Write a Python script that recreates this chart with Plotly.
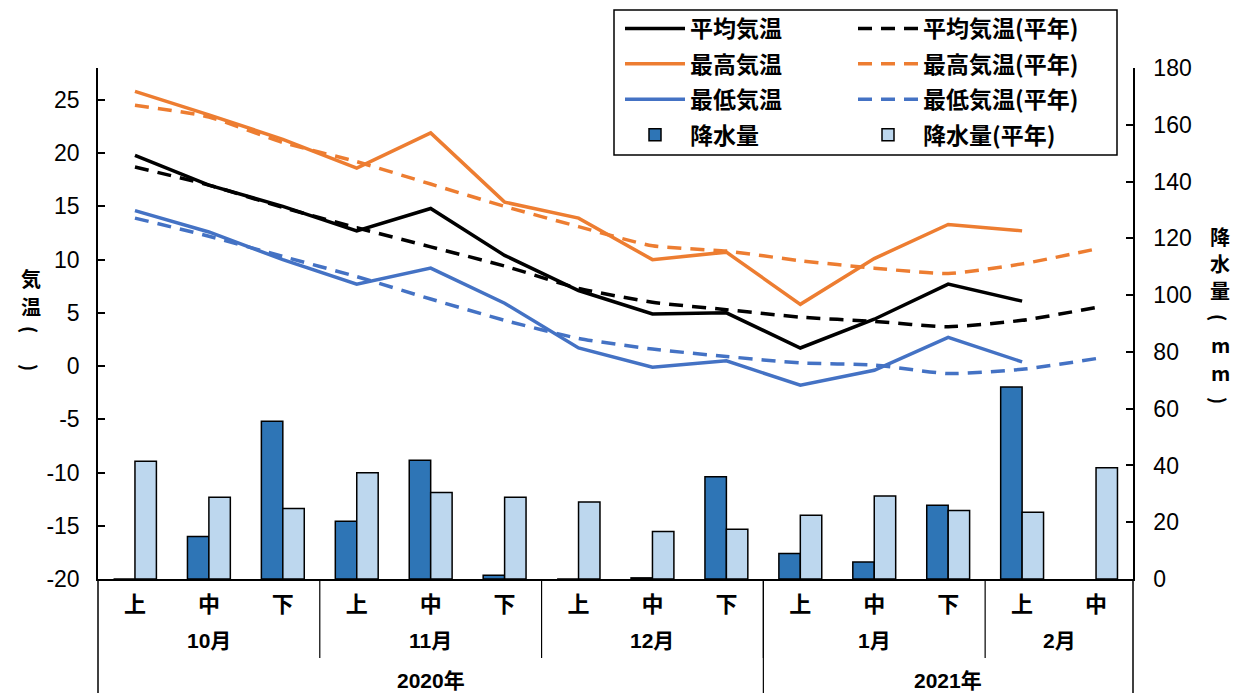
import plotly.graph_objects as go

# ---------------- data ----------------
sub_labels = ["上", "中", "下", "上", "中", "下", "上", "中", "下", "上", "中", "下", "上", "中"]
months = ["10月", "11月", "12月", "1月", "2月"]
month_counts = [3, 3, 3, 3, 2]
years = ["2020年", "2021年"]
year_counts = [9, 5]

temp_tick_vals = [-20, -15, -10, -5, 0, 5, 10, 15, 20, 25]
temp_tick_text = ["-20", "-15", "-10", "-5", "0", "5", "10", "15", "20", "25"]

mean_temp = [19.8, 17.0, 15.0, 12.7, 14.8, 10.4, 7.1, 4.9, 5.0, 1.7, 4.4, 7.7, 6.1, None]
mean_normal = [18.7, 17.0, 14.9, 13.0, 11.2, 9.4, 7.3, 6.0, 5.3, 4.6, 4.2, 3.7, 4.3, 5.5]
max_temp = [25.8, 23.6, 21.3, 18.6, 21.9, 15.4, 13.9, 10.0, 10.7, 5.8, 10.1, 13.3, 12.7, None]
max_normal = [24.5, 23.4, 21.0, 19.2, 17.1, 15.0, 13.1, 11.3, 10.8, 9.9, 9.2, 8.7, 9.6, 11.0]
min_temp = [14.6, 12.6, 10.0, 7.7, 9.2, 5.9, 1.7, -0.1, 0.5, -1.8, -0.4, 2.7, 0.4, None]
min_normal = [13.9, 12.2, 10.3, 8.4, 6.3, 4.3, 2.6, 1.6, 0.9, 0.3, 0.1, -0.7, -0.3, 0.7]
precip = [0, 15.0, 55.6, 20.3, 41.8, 1.3, 0, 0.4, 36.0, 9.0, 6.0, 26.0, 67.6, None]
precip_normal = [41.5, 28.8, 24.8, 37.4, 30.5, 28.8, 27.1, 16.7, 17.5, 22.5, 29.2, 24.1, 23.5, 39.2]

# axis titles, written vertically one glyph at a time (angle 90 = rotated bracket)
left_title = [("気", 278, 0), ("温", 306, 0), ("(", 329, 90), (")", 367, 90)]
right_title = [("降", 236, 0), ("水", 263, 0), ("量", 290, 0), ("(", 317, 90),
               ("m", 344, 0), ("m", 372, 0), (")", 400, 90)]

# ---------------- styling ----------------
BLACK = "#000000"
ORANGE = "#ED7D31"
BLUE = "#4472C4"
DARKBAR = "#2E75B6"
LIGHTBAR = "#BDD7EE"
FONT = "Liberation Sans, Noto Sans CJK JP, sans-serif"
CJK = "Noto Sans CJK JP, sans-serif"
LW = 3.5
DASH = "14px,9px"

x = list(range(len(sub_labels)))

fig = go.Figure()

# bars (secondary axis)
fig.add_trace(go.Bar(x=x, y=precip, name="降水量", yaxis="y2",
                     marker=dict(color=DARKBAR, line=dict(color=BLACK, width=1.5)),
                     legend="legend", legendgroup="p", legendrank=4))
fig.add_trace(go.Bar(x=x, y=precip_normal, name="降水量(平年)", yaxis="y2",
                     marker=dict(color=LIGHTBAR, line=dict(color=BLACK, width=1.5)),
                     legend="legend2", legendgroup="pn", legendrank=4))

# temperature lines
fig.add_trace(go.Scatter(x=x, y=mean_temp, name="平均気温", mode="lines",
                         line=dict(color=BLACK, width=LW), legend="legend",
                         legendgroup="a", legendrank=1))
fig.add_trace(go.Scatter(x=x, y=max_temp, name="最高気温", mode="lines",
                         line=dict(color=ORANGE, width=LW), legend="legend",
                         legendgroup="b", legendrank=2))
fig.add_trace(go.Scatter(x=x, y=min_temp, name="最低気温", mode="lines",
                         line=dict(color=BLUE, width=LW), legend="legend",
                         legendgroup="c", legendrank=3))
fig.add_trace(go.Scatter(x=x, y=mean_normal, name="平均気温(平年)", mode="lines",
                         line=dict(color=BLACK, width=LW, dash=DASH, shape="spline", smoothing=0.6),
                         legend="legend2", legendgroup="an", legendrank=1))
fig.add_trace(go.Scatter(x=x, y=max_normal, name="最高気温(平年)", mode="lines",
                         line=dict(color=ORANGE, width=LW, dash=DASH, shape="spline", smoothing=0.6),
                         legend="legend2", legendgroup="bn", legendrank=2))
fig.add_trace(go.Scatter(x=x, y=min_normal, name="最低気温(平年)", mode="lines",
                         line=dict(color=BLUE, width=LW, dash=DASH, shape="spline", smoothing=0.6),
                         legend="legend2", legendgroup="cn", legendrank=3))

W, H = 1235, 693
ML, MR, MT, MB = 98, 102, 68, 114
pw = W - ML - MR
ph = H - MT - MB


def px_x(p):
    return (p - ML) / pw


def px_y(p):
    return (H - MB - p) / ph


legend_common = dict(
    font=dict(family=CJK, size=23, color=BLACK, weight="bold"),
    bgcolor="rgba(0,0,0,0)", borderwidth=0,
    orientation="v", traceorder="grouped", tracegroupgap=2.5,
    itemwidth=60, xanchor="left", yanchor="top",
)

fig.update_layout(
    width=W, height=H,
    margin=dict(l=ML, r=MR, t=MT, b=MB, pad=0, autoexpand=False),
    paper_bgcolor="white", plot_bgcolor="white",
    font=dict(family=FONT, size=22, color=BLACK),
    barmode="group", bargap=0.42, bargroupgap=0,
    showlegend=True,
    legend=dict(x=px_x(620), y=px_y(7), **legend_common),
    legend2=dict(x=px_x(853), y=px_y(7), **legend_common),
    xaxis=dict(range=[-0.5, len(x) - 0.5], tickmode="array", tickvals=x, ticktext=sub_labels,
               showline=True, linecolor=BLACK, linewidth=1.5, ticks="", showgrid=False,
               zeroline=False, ticklabelstandoff=5, automargin=False,
               tickfont=dict(family=CJK, size=22, weight="bold")),
    yaxis=dict(range=[-20, 28], tickmode="array", tickvals=temp_tick_vals, ticktext=temp_tick_text,
               showline=True, linecolor=BLACK, linewidth=1.5, ticks="inside", ticklen=7,
               tickwidth=1.5, tickcolor=BLACK, showgrid=False, zeroline=False, automargin=False,
               ticklabelstandoff=12, tickfont=dict(size=23)),
    yaxis2=dict(range=[0, 180], tickmode="linear", tick0=0, dtick=20, overlaying="y", side="right",
                showline=True, linecolor=BLACK, linewidth=1.5, ticks="inside", ticklen=7,
                tickwidth=1.5, tickcolor=BLACK, showgrid=False, zeroline=False, automargin=False,
                ticklabelstandoff=14, tickfont=dict(size=23)),
)

shapes = []
# legend frame
shapes.append(dict(type="rect", xref="paper", yref="paper",
                   x0=px_x(614), x1=px_x(1117), y0=px_y(155), y1=px_y(10),
                   line=dict(color=BLACK, width=1.5), fillcolor="white", layer="below"))
# axis line extensions below the plot
bottom = px_y(H + 5)
for xp in (0, 1):
    shapes.append(dict(type="line", xref="paper", yref="paper", x0=xp, x1=xp, y0=0, y1=bottom,
                       line=dict(color=BLACK, width=1.5)))

annotations = []
# month labels and separators
start = 0
month_sep_y = px_y(658)
for m, c in zip(months, month_counts):
    centre = start + (c - 1) / 2
    annotations.append(dict(x=centre, xref="x", y=px_y(640), yref="paper", text=m,
                            showarrow=False, font=dict(family=FONT, size=21, weight="bold"),
                            xanchor="center", yanchor="middle"))
    start += c
    if start < len(x):
        shapes.append(dict(type="line", xref="x", yref="paper", x0=start - 0.5, x1=start - 0.5,
                           y0=0, y1=month_sep_y, line=dict(color=BLACK, width=1.2)))
# year labels and separators
start = 0
for yv, c in zip(years, year_counts):
    centre = start + (c - 1) / 2
    annotations.append(dict(x=centre, xref="x", y=px_y(680), yref="paper", text=yv,
                            showarrow=False, font=dict(family=FONT, size=21, weight="bold"),
                            xanchor="center", yanchor="middle"))
    start += c
    if start < len(x):
        shapes.append(dict(type="line", xref="x", yref="paper", x0=start - 0.5, x1=start - 0.5,
                           y0=0, y1=bottom, line=dict(color=BLACK, width=1.2)))

# axis titles (vertical text, glyph by glyph)
for xpix, chars in ((31, left_title), (1220, right_title)):
    for ch, ypix, ang in chars:
        annotations.append(dict(x=px_x(xpix), xref="paper", y=px_y(ypix), yref="paper",
                                text=ch, showarrow=False, textangle=ang,
                                font=dict(family=CJK, size=20 if ang == 0 else 19, weight="bold"),
                                xanchor="center", yanchor="middle", borderpad=0))

fig.update_layout(shapes=shapes, annotations=annotations)

fig.write_html("out.html", config={"displayModeBar": False},
               post_script="document.body.style.margin='0';document.body.style.padding='0';")
